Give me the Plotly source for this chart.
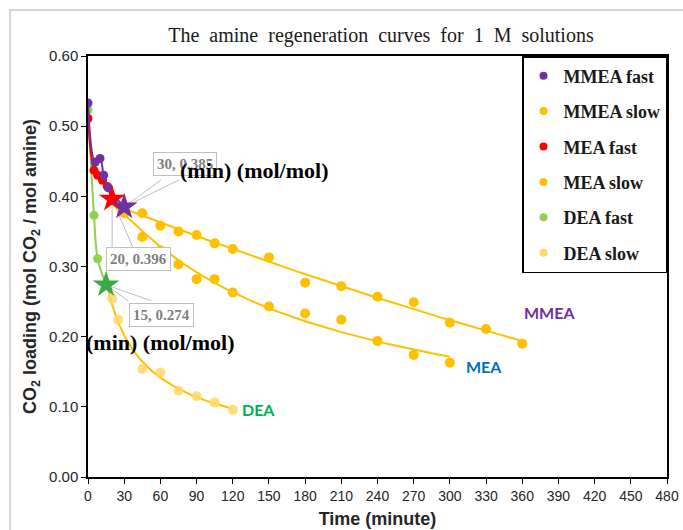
import numpy as np
import plotly.graph_objects as go

# ---------------- data ----------------
mmea_fast_t = [0, 6, 10, 13, 17, 30]
mmea_fast_v = [0.533, 0.449, 0.454, 0.430, 0.412, 0.385]
mea_fast_t = [0, 5, 8, 12, 16, 20]
mea_fast_v = [0.511, 0.437, 0.430, 0.423, 0.414, 0.396]
dea_fast_t = [0, 5, 8, 15]
dea_fast_v = [0.523, 0.373, 0.311, 0.274]

mmea_slow_t = [45, 60, 75, 90, 105, 120, 150, 180, 210, 240, 270, 300, 330, 360]
mmea_slow_v = [0.376, 0.358, 0.350, 0.345, 0.333, 0.325, 0.313, 0.277, 0.272,
               0.257, 0.249, 0.220, 0.211, 0.190]
mea_slow_t = [30, 45, 60, 75, 90, 105, 120, 150, 180, 210, 240, 270, 300]
mea_slow_v = [0.376, 0.342, 0.323, 0.303, 0.282, 0.282, 0.263, 0.243, 0.233,
              0.224, 0.194, 0.174, 0.163]
dea_slow_t = [20, 25, 45, 60, 75, 90, 105, 120]
dea_slow_v = [0.254, 0.224, 0.154, 0.149, 0.123, 0.115, 0.106, 0.096]

# transition points (stars)
star_names = ["MMEA", "MEA", "DEA"]
star_t = [30, 20, 15]
star_v = [0.385, 0.396, 0.274]

x_ticks = list(range(0, 481, 30))
y_ticks = [0.0, 0.1, 0.2, 0.3, 0.4, 0.5, 0.6]

PURPLE = "#7030A0"
RED = "#FF0000"
GREEN = "#92D050"
STAR_GREEN = "#3AAA45"
ORANGE = "#FFC000"
LIGHT = "#FFD966"
SERIF = "Liberation Serif, Times New Roman, serif"
SANS = "Liberation Sans, Arial, sans-serif"

W, H = 683, 530
ML, MR, MT, MB = 88, 16, 56, 53


def trend(t, v, kind, n=200):
    """Smooth trendline fitted to the measured points."""
    t = np.asarray(t, float)
    v = np.asarray(v, float)
    tt = np.linspace(t.min(), t.max(), n)
    if kind == "poly":
        c = np.polyfit(t, v, 2)
        return tt, np.polyval(c, tt)
    c = np.polyfit(np.log(t), np.log(v), 2)
    return tt, np.exp(np.polyval(c, np.log(tt)))


fig = go.Figure()

# slow trend lines (start at the transition star)
for st, sv, (tt0, vv0), kind in [
    (mmea_slow_t, mmea_slow_v, (star_t[0], star_v[0]), "poly"),
    (mea_slow_t, mea_slow_v, (star_t[1], star_v[1]), "log"),
    (dea_slow_t, dea_slow_v, (star_t[2], star_v[2]), "log"),
]:
    tx, vy = trend([tt0] + st, [vv0] + sv, kind)
    fig.add_trace(go.Scatter(x=tx, y=vy, mode="lines",
                             line=dict(color=ORANGE, width=2),
                             showlegend=False, hoverinfo="skip"))

# slow points
fig.add_trace(go.Scatter(x=dea_slow_t, y=dea_slow_v, mode="markers",
                         marker=dict(color=LIGHT, size=10, opacity=0.85),
                         showlegend=False))
fig.add_trace(go.Scatter(x=mea_slow_t, y=mea_slow_v, mode="markers",
                         marker=dict(color=ORANGE, size=10), showlegend=False))
fig.add_trace(go.Scatter(x=mmea_slow_t, y=mmea_slow_v, mode="markers",
                         marker=dict(color=ORANGE, size=10), showlegend=False))

# fast series
for ft, fv, col in [(dea_fast_t, dea_fast_v, GREEN),
                    (mea_fast_t, mea_fast_v, RED),
                    (mmea_fast_t, mmea_fast_v, PURPLE)]:
    fig.add_trace(go.Scatter(x=ft, y=fv, mode="lines+markers",
                             line=dict(color=col, width=2, shape="spline"),
                             marker=dict(color=col, size=9),
                             showlegend=False))

# stars
star_cols = [PURPLE, RED, STAR_GREEN]
for i in [2, 1, 0]:
    fig.add_trace(go.Scatter(x=[star_t[i]], y=[star_v[i]], mode="markers",
                             marker=dict(symbol="star", size=20,
                                         color=star_cols[i]),
                             showlegend=False))

# legend-only entries
legend_items = [("MMEA fast", PURPLE), ("MMEA slow", ORANGE),
                ("MEA fast", RED), ("MEA slow", ORANGE),
                ("DEA fast", GREEN), ("DEA slow", LIGHT)]
for i, (name, col) in enumerate(legend_items):
    fig.add_trace(go.Scatter(x=[None], y=[None], mode="markers", name=name,
                             marker=dict(color=col, size=8),
                             legendgroup=f"g{i}", legendrank=i + 1))

# callout boxes attached to the stars
label_shift = [(61, 43), (26, -60), (55, -30)]
leader_paths = ["M0,0 L37,27 M0,0 L55,27",
                "M0,0 L0,-49 M0,0 L21,-49",
                "M0,0 L22,-16 M0,0 L45,-16"]
annotations = []
shapes = []
for i in range(3):
    shapes.append(dict(type="path", xref="x", yref="y",
                       xsizemode="pixel", ysizemode="pixel",
                       xanchor=star_t[i], yanchor=star_v[i],
                       path=leader_paths[i],
                       line=dict(color="#BFBFBF", width=1), layer="below"))
    annotations.append(dict(x=star_t[i], y=star_v[i], xref="x", yref="y",
                            xshift=label_shift[i][0], yshift=label_shift[i][1],
                            text=f"<b>{star_t[i]}, {star_v[i]:.3f}</b>",
                            showarrow=False,
                            font=dict(family=SERIF, size=15, color="#7F7F7F"),
                            bgcolor="white", bordercolor="#BFBFBF",
                            borderwidth=1, borderpad=3))

# stray unit labels
for ux, uy in [(137.5, 0.4375), (59.5, 0.191)]:
    annotations.append(dict(x=ux, y=uy, xref="x", yref="y",
                            text="<b>(min) (mol/mol)</b>", showarrow=False,
                            font=dict(family=SERIF, size=22, color="black")))

# series labels
for txt, lx, ly, col in [("MMEA", 383, 0.235, PURPLE),
                         ("MEA", 328, 0.158, "#0070C0"),
                         ("DEA", 141, 0.096, "#00B050")]:
    annotations.append(dict(x=lx, y=ly, xref="x", yref="y", text=f"<b>{txt}</b>",
                            showarrow=False,
                            font=dict(family="Lato, Liberation Sans, sans-serif",
                                      size=16, color=col)))

# chart-area border (top & left edge of the Excel chart frame)
pw, ph = W - ML - MR, H - MT - MB
shapes.append(dict(type="path", xref="paper", yref="paper",
                   path=f"M{(10 - ML) / pw},{-(H - MT + 10) / ph} "
                        f"L{(10 - ML) / pw},{(MT - 10) / ph + 1} "
                        f"L{(W + 10 - ML) / pw},{(MT - 10) / ph + 1}",
                   line=dict(color="#C8C8C8", width=1.5)))

title_text = "\u00a0 ".join("The amine regeneration curves for 1 M solutions".split(" "))

fig.update_layout(
    width=W, height=H,
    margin=dict(l=ML, r=MR, t=MT, b=MB, pad=0),
    paper_bgcolor="white", plot_bgcolor="white",
    title=dict(text=title_text,
               x=381 / W, xanchor="center", y=1 - 35 / H, yanchor="middle",
               font=dict(family=SERIF, size=20, color="#1a1a1a")),
    showlegend=True,
    legend=dict(x=1, y=1, xanchor="right", yanchor="top",
                bordercolor="black", borderwidth=1.5, bgcolor="white",
                font=dict(family=SERIF, size=18, color="#1a1a1a", weight="bold"),
                tracegroupgap=9, itemwidth=30, traceorder="grouped"),
    annotations=annotations,
    shapes=shapes,
)

fig.update_xaxes(range=[0, 480], tickvals=x_ticks, ticks="outside", ticklen=5,
                 tickcolor="black", showline=True, linecolor="black",
                 linewidth=1.5, mirror=True, showgrid=False, zeroline=False,
                 automargin=False,
                 tickfont=dict(family=SANS, size=14, color="#262626"),
                 title=dict(text="<b>Time (minute)</b>", standoff=10,
                            font=dict(family=SANS, size=18, color="#262626")))
fig.update_yaxes(range=[0, 0.6], tickvals=y_ticks, tickformat=".2f",
                 ticks="outside", ticklen=5, tickcolor="black",
                 showline=True, linecolor="black", linewidth=1.5, mirror=True,
                 showgrid=False, zeroline=False, automargin=False,
                 tickfont=dict(family=SANS, size=15, color="#262626"),
                 title=dict(text="<b>CO<sub>2</sub> loading (mol CO<sub>2</sub> / mol amine)</b>",
                            standoff=8,
                            font=dict(family=SANS, size=18, color="#262626")))

fig.write_html("out.html", config={"displayModeBar": False},
               post_script="document.body.style.margin='0px';")
